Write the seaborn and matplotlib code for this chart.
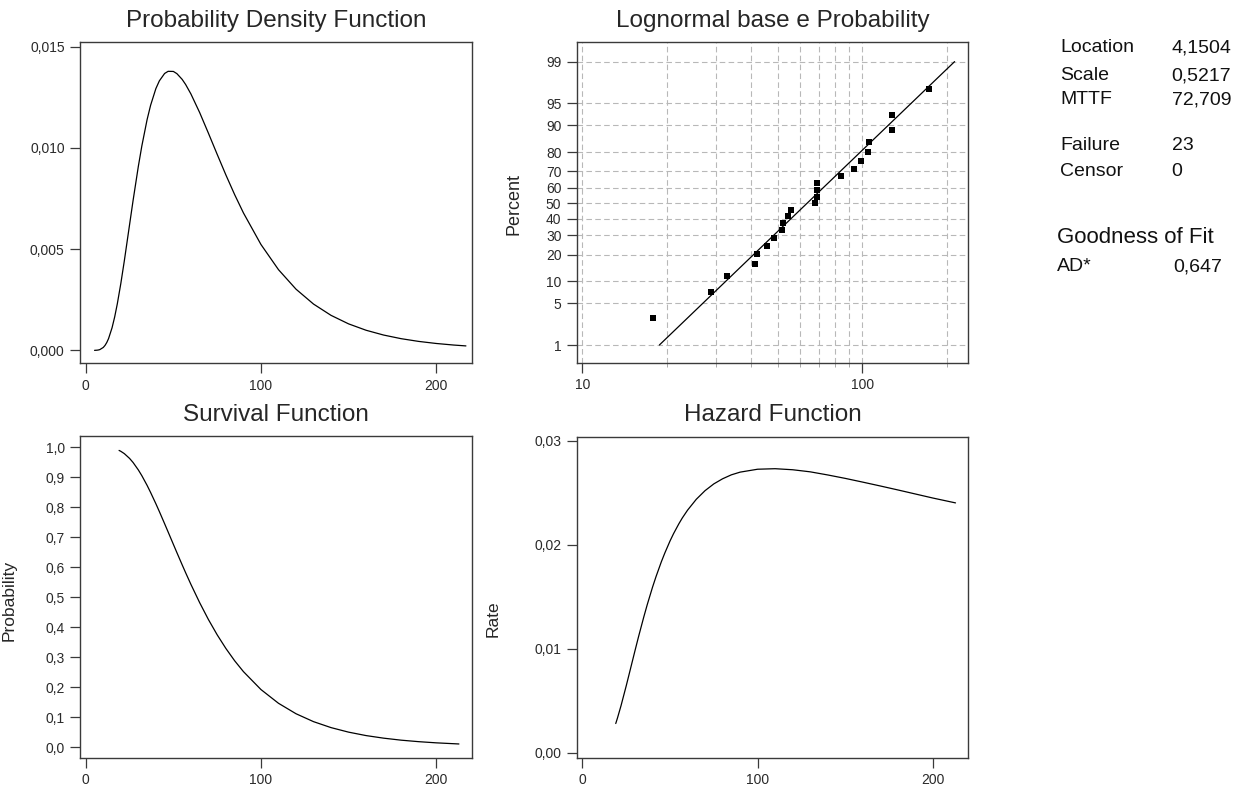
import numpy as np
import seaborn as sns
import matplotlib.pyplot as plt
from matplotlib.ticker import FixedLocator, FixedFormatter, NullLocator, NullFormatter
from statistics import NormalDist

sns.set_style("ticks")
plt.rcParams['font.family'] = ['Liberation Sans', 'DejaVu Sans']

# --- values ---
# probability density function
pdf_x = [5, 6, 7, 8, 10, 11, 12, 13, 15, 16.5, 18, 20, 22, 25, 27, 30, 32, 35, 37,
         40, 42, 45, 47, 50, 52, 55, 57, 60, 65, 70, 75, 80, 85, 90, 100, 110, 120,
         130, 140, 150, 160, 170, 180, 190, 200, 210, 217]
pdf_y = [0.0000011, 0.0000046, 0.0000145, 0.0000361, 0.000144, 0.000246, 0.000390,
         0.000581, 0.001116, 0.001653, 0.002299, 0.003301, 0.004421, 0.006213,
         0.007404, 0.009090, 0.010099, 0.01140, 0.012108, 0.01293, 0.013315, 0.01368,
         0.013786, 0.01378, 0.013672, 0.01339, 0.013135, 0.01267, 0.01175, 0.01073,
         0.009686, 0.008662, 0.007690, 0.006790, 0.005230, 0.003987, 0.003023,
         0.002287, 0.001729, 0.001309, 0.000993, 0.000756, 0.000577, 0.000442,
         0.000340, 0.000262, 0.000219]

# survival and hazard functions
sh_x = [19, 20, 22, 25, 27, 30, 32, 35, 37, 40, 42, 45, 47, 50, 52, 55, 57, 60, 65,
        70, 75, 80, 85, 90, 100, 110, 120, 130, 140, 150, 160, 170, 180, 190, 200, 213]
surv_y = [0.9896, 0.9866, 0.9789, 0.9629, 0.9493, 0.9245, 0.9053, 0.8730, 0.8493,
          0.8118, 0.7856, 0.7450, 0.7176, 0.6762, 0.6487, 0.6081, 0.5815, 0.5428,
          0.4817, 0.4254, 0.3744, 0.3286, 0.2876, 0.2515, 0.1917, 0.1459, 0.1110,
          0.0846, 0.0647, 0.0496, 0.0381, 0.0295, 0.0228, 0.0178, 0.0139, 0.0101]
haz_y = [0.00281, 0.00335, 0.00452, 0.00645, 0.00780, 0.00983, 0.01116, 0.01306,
         0.01426, 0.01593, 0.01695, 0.01836, 0.01921, 0.02038, 0.02108, 0.02202,
         0.02259, 0.02334, 0.02439, 0.02522, 0.02587, 0.02636, 0.02674, 0.02700,
         0.02728, 0.02733, 0.02723, 0.02703, 0.02673, 0.02640, 0.02604, 0.02567,
         0.02529, 0.02490, 0.02451, 0.02404]

# probability plot points (failure times, percent)
fail_t = [17.88, 28.92, 33.00, 41.52, 42.12, 45.60, 48.48, 51.84, 51.96, 54.12,
          55.56, 67.80, 68.64, 68.64, 68.88, 84.12, 93.12, 98.64, 105.12, 105.84,
          127.92, 128.04, 173.40]
fail_pct = [2.99, 7.26, 11.54, 15.81, 20.09, 24.36, 28.63, 32.91, 37.18, 41.45,
            45.73, 50.00, 54.27, 58.55, 62.82, 67.09, 71.37, 75.64, 79.91, 84.19,
            88.46, 92.74, 97.01]
fit_t = [18.85, 213.6]
fit_pct = [1, 99]

# tick labels
pdf_ticks = [0.000, 0.005, 0.010, 0.015]
pdf_labels = ["0,000", "0,005", "0,010", "0,015"]
surv_ticks = [0.0, 0.1, 0.2, 0.3, 0.4, 0.5, 0.6, 0.7, 0.8, 0.9, 1.0]
surv_labels = ["0,0", "0,1", "0,2", "0,3", "0,4", "0,5", "0,6", "0,7", "0,8", "0,9", "1,0"]
haz_ticks = [0.00, 0.01, 0.02, 0.03]
haz_labels = ["0,00", "0,01", "0,02", "0,03"]
time_ticks = [0, 100, 200]
pct_ticks = [1, 5, 10, 20, 30, 40, 50, 60, 70, 80, 90, 95, 99]
logx_major = [10, 100]
logx_minor = [20, 30, 40, 50, 60, 70, 80, 90, 200]

# text table
stat_names = ["Location", "Scale", "MTTF", "Failure", "Censor"]
stat_values = ["4,1504", "0,5217", "72,709", "23", "0"]
gof_name = "AD*"
gof_value = "0,647"

# --- figure ---
W, H = 1251, 791
fig = plt.figure(figsize=(W / 100, H / 100), dpi=100)
fig.patch.set_facecolor('white')

def px_axes(left, top, right, bottom):
    return fig.add_axes([left / W, 1 - bottom / H, (right - left) / W, (bottom - top) / H])

ax_pdf = px_axes(80, 42.3, 471.7, 363.3)
ax_prob = px_axes(576.7, 42.3, 968.3, 362.7)
ax_surv = px_axes(80, 436, 471.7, 757.7)
ax_haz = px_axes(576.7, 436.7, 968.3, 757.7)

edge = '#3a3a3a'
for ax in [ax_pdf, ax_prob, ax_surv, ax_haz]:
    for sp in ax.spines.values():
        sp.set_visible(True)
        sp.set_color(edge)
        sp.set_linewidth(1.0)
    ax.tick_params(axis='both', which='major', direction='out', length=7, width=0.9,
                   color=edge, labelsize=10, labelcolor='#2a2a2a', pad=4,
                   bottom=True, left=True, top=False, right=False)

line_kw = dict(color='black', linewidth=0.9, estimator=None, sort=False, legend=False)

# PDF
sns.lineplot(x=pdf_x, y=pdf_y, ax=ax_pdf, **line_kw)
ax_pdf.set_xlim(-3.3, 220.3)
ax_pdf.set_ylim(-0.00064, 0.01522)
ax_pdf.set_xticks(time_ticks)
ax_pdf.set_yticks(pdf_ticks)
ax_pdf.set_yticklabels(pdf_labels)
ax_pdf.set_title("Probability Density Function", fontsize=17.5, pad=11)

# probability plot
nd = NormalDist()
_ppf = np.vectorize(nd.inv_cdf, otypes=[float])
_cdf = np.vectorize(nd.cdf, otypes=[float])

def probit(p):
    p = np.clip(np.asarray(p, dtype=float) / 100.0, 1e-9, 1 - 1e-9)
    return _ppf(p)

def probit_inv(z):
    return _cdf(np.asarray(z, dtype=float)) * 100.0

ax_prob.set_xscale('log')
ax_prob.set_yscale('function', functions=(probit, probit_inv))
ax_prob.set_xlim(9.55, 239.1)
ax_prob.set_ylim(0.4436, 99.59)
ax_prob.xaxis.set_major_locator(FixedLocator(logx_major))
ax_prob.xaxis.set_major_formatter(FixedFormatter([str(v) for v in logx_major]))
ax_prob.xaxis.set_minor_locator(FixedLocator(logx_minor))
ax_prob.xaxis.set_minor_formatter(NullFormatter())
ax_prob.yaxis.set_major_locator(FixedLocator(pct_ticks))
ax_prob.yaxis.set_major_formatter(FixedFormatter([str(v) for v in pct_ticks]))
ax_prob.yaxis.set_minor_locator(NullLocator())
ax_prob.tick_params(axis='x', which='minor', direction='out', length=3, width=0.6,
                    color='#9a9a9a', bottom=True)
grid_kw = dict(color='#b8b8b8', linestyle=(0, (5, 3)), linewidth=0.8)
ax_prob.grid(True, axis='x', which='both', **grid_kw)
ax_prob.grid(True, axis='y', which='major', **grid_kw)
ax_prob.set_axisbelow(True)
sns.lineplot(x=fit_t, y=fit_pct, ax=ax_prob, **line_kw)
sns.scatterplot(x=fail_t, y=fail_pct, ax=ax_prob, marker='s', s=20, color='black',
                edgecolor='black', linewidth=0, legend=False, zorder=3)
ax_prob.set_ylabel("Percent", fontsize=13)
ax_prob.yaxis.set_label_coords(-0.138, 0.495)
ax_prob.set_title("Lognormal base e Probability", fontsize=17.5, pad=11)

# survival
sns.lineplot(x=sh_x, y=surv_y, ax=ax_surv, **line_kw)
ax_surv.set_xlim(-3.3, 220.3)
ax_surv.set_ylim(-0.0357, 1.0377)
ax_surv.set_xticks(time_ticks)
ax_surv.set_yticks(surv_ticks)
ax_surv.set_yticklabels(surv_labels)
ax_surv.set_ylabel("Probability", fontsize=12.5)
ax_surv.yaxis.set_label_coords(-0.1616, 0.49)
ax_surv.set_title("Survival Function", fontsize=17.5, pad=11)

# hazard
sns.lineplot(x=sh_x, y=haz_y, ax=ax_haz, **line_kw)
ax_haz.set_xlim(-3.3, 220.3)
ax_haz.set_ylim(-0.00048, 0.03041)
ax_haz.set_xticks(time_ticks)
ax_haz.set_yticks(haz_ticks)
ax_haz.set_yticklabels(haz_labels)
ax_haz.set_ylabel("Rate", fontsize=12.5)
ax_haz.yaxis.set_label_coords(-0.193, 0.434)
ax_haz.set_title("Hazard Function", fontsize=17.5, pad=11)

# statistics table
stat_rows_y = [48, 76, 100, 145, 171]
for name, val, yy in zip(stat_names, stat_values, stat_rows_y):
    fig.text(1060 / W, 1 - yy / H, name, fontsize=14, va='center', ha='left', color='#111111')
    fig.text(1171.7 / W, 1 - yy / H, val, fontsize=14, va='center', ha='left', color='#111111')
fig.text(1056.7 / W, 1 - 237.7 / H, "Goodness of Fit", fontsize=16, va='center', ha='left',
         color='#111111')
fig.text(1056.7 / W, 1 - 266.7 / H, gof_name, fontsize=14, va='center', ha='left',
         color='#111111')
fig.text(1221.7 / W, 1 - 266.7 / H, gof_value, fontsize=14, va='center', ha='right',
         color='#111111')

fig.savefig("out.png", dpi=100, facecolor='white')
